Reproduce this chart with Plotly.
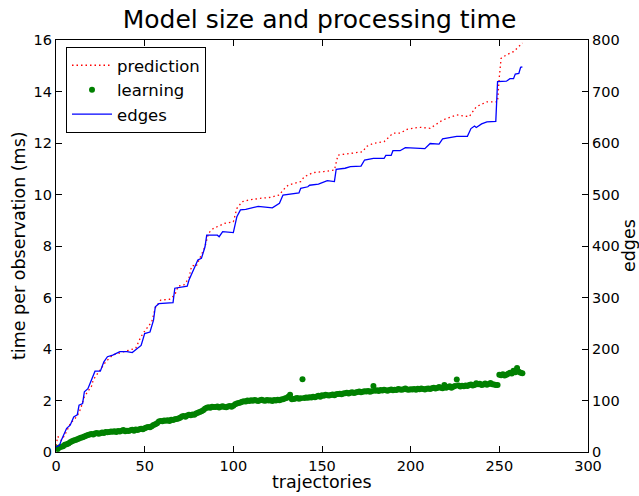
import plotly.graph_objects as go

# ---- data ----
pred_x = [0, 1, 3, 5, 8, 12, 14, 16, 20, 21, 23, 26, 28, 32, 38, 41, 45, 47, 49, 54, 56, 59, 64, 67, 69, 72, 75, 76, 77, 79, 81, 84, 86, 89, 92, 95, 100, 102, 105, 109, 115, 121, 126, 128, 131, 138, 140, 145, 151, 157, 159, 166, 173, 175, 179, 185, 190, 194, 198, 205, 211, 218, 226, 233, 237, 243, 249, 250, 251, 254, 258, 260, 263]
pred_ms = [0.25, 0.6, 0.45, 0.66, 1.1, 1.4, 1.7, 2.15, 2.55, 2.8, 3.0, 3.3, 3.5, 3.77, 3.9, 3.96, 4.03, 4.35, 4.6, 5.06, 5.6, 5.9, 5.93, 6.1, 6.45, 6.48, 6.75, 7.1, 7.25, 7.2, 7.52, 7.97, 8.5, 8.7, 8.78, 8.88, 8.94, 9.46, 9.72, 9.79, 9.85, 9.89, 9.98, 10.17, 10.37, 10.5, 10.69, 10.85, 10.89, 10.95, 11.53, 11.6, 11.66, 11.86, 11.99, 12.05, 12.38, 12.38, 12.53, 12.61, 12.57, 12.89, 13.09, 13.02, 13.41, 13.6, 13.6, 14.57, 15.29, 15.42, 15.55, 15.68, 15.88]

learn_ms = [
    0.15, 0.12, 0.18, 0.2, 0.22, 0.28, 0.3, 0.33, 0.38, 0.42,
    0.45, 0.47, 0.5, 0.52, 0.55, 0.57, 0.6, 0.63, 0.66, 0.68,
    0.7, 0.68, 0.72, 0.74, 0.71, 0.73, 0.76, 0.74, 0.78, 0.77,
    0.78, 0.8, 0.79, 0.81, 0.78, 0.82, 0.8, 0.83, 0.85, 0.81,
    0.83, 0.82, 0.84, 0.86, 0.83, 0.87, 0.85, 0.88, 0.9, 0.88,
    0.92, 0.95, 0.97, 0.96, 1.0, 1.05, 1.08, 1.12, 1.18, 1.2,
    1.19, 1.22, 1.21, 1.23, 1.2, 1.25, 1.24, 1.27, 1.28, 1.3,
    1.33, 1.38, 1.4, 1.37, 1.42, 1.45, 1.43, 1.46, 1.45, 1.5,
    1.52, 1.55, 1.58, 1.62, 1.68, 1.72, 1.74, 1.72, 1.76, 1.75,
    1.75, 1.77, 1.73, 1.76, 1.78, 1.75, 1.74, 1.77, 1.79, 1.76,
    1.8, 1.85, 1.88, 1.9, 1.92, 1.95, 1.97, 1.96, 2.0, 1.98,
    2.01, 1.99, 2.02, 2.0, 1.98, 2.01, 2.03, 2.0, 1.99, 2.02,
    2.0, 2.01, 1.98, 2.02, 2.0, 2.03, 2.01, 2.04, 2.05, 2.08,
    2.1, 2.15, 2.22, 2.05, 2.06, 2.08, 2.1, 2.07, 2.09, 2.83,
    2.1, 2.12, 2.11, 2.13, 2.12, 2.15, 2.13, 2.16, 2.18, 2.15,
    2.2, 2.18, 2.22, 2.2, 2.19, 2.21, 2.23, 2.2, 2.24, 2.25,
    2.26, 2.24, 2.27, 2.28, 2.3, 2.27, 2.3, 2.32, 2.29, 2.31,
    2.33, 2.35, 2.32, 2.34, 2.36, 2.35, 2.37, 2.34, 2.36, 2.56,
    2.38, 2.4, 2.37, 2.41, 2.39, 2.42, 2.4, 2.38, 2.41, 2.43,
    2.4, 2.42, 2.41, 2.45, 2.43, 2.42, 2.44, 2.47, 2.43, 2.42,
    2.44, 2.43, 2.45, 2.42, 2.46, 2.44, 2.47, 2.45, 2.43, 2.46,
    2.47, 2.45, 2.48, 2.5, 2.47, 2.49, 2.52, 2.5, 2.48, 2.6,
    2.5, 2.52, 2.55, 2.5, 2.53, 2.56, 2.82, 2.58, 2.54, 2.57,
    2.55, 2.58, 2.56, 2.6, 2.62, 2.58, 2.6, 2.67, 2.63, 2.65,
    2.6, 2.62, 2.66, 2.61, 2.64, 2.68, 2.63, 2.62, 2.6, 2.6,
    3.0, 2.98, 3.02, 2.97, 3.0, 3.04, 3.08, 3.05, 3.16, 3.1,
    3.26, 3.12, 3.08, 3.06,
]
learn_x = list(range(len(learn_ms)))

edges_x = [0, 2, 3, 6, 8, 10, 12, 13, 15, 16, 18, 20, 22, 25, 27, 29, 32, 36, 40, 43, 45, 48, 50, 53, 55, 56, 58, 66, 67, 71, 74, 75, 77, 80, 82, 84, 85, 91, 92, 94, 100, 102, 104, 107, 114, 119, 122, 126, 128, 137, 138, 142, 143, 148, 153, 157, 158, 163, 166, 172, 174, 179, 185, 186, 189, 190, 194, 197, 208, 211, 216, 218, 223, 226, 232, 234, 236, 237, 240, 243, 248, 249, 254, 256, 258, 259, 261, 262, 263]
edges_n = [10, 13, 23, 46, 52, 68, 72, 91, 94, 117, 123, 140, 157, 157, 175, 185, 188, 195, 195, 193, 198, 207, 230, 233, 256, 282, 288, 290, 318, 321, 322, 334, 350, 373, 376, 398, 421, 421, 418, 428, 426, 457, 470, 471, 477, 476, 474, 483, 499, 503, 512, 515, 518, 520, 527, 525, 549, 551, 554, 555, 567, 570, 570, 576, 576, 585, 585, 591, 589, 599, 598, 608, 611, 613, 613, 628, 633, 630, 637, 641, 642, 719, 720, 725, 725, 734, 735, 747, 748]

x_ticks = [0, 50, 100, 150, 200, 250, 300]
y_ticks = [0, 2, 4, 6, 8, 10, 12, 14, 16]
y2_ticks = [0, 100, 200, 300, 400, 500, 600, 700, 800]

FONT = "DejaVu Sans"

fig = go.Figure()
fig.add_trace(go.Scatter(x=pred_x, y=pred_ms, mode="lines", name="prediction",
                         line=dict(color="#ff0000", width=1.3, dash="1.5px,3px")))
fig.add_trace(go.Scatter(x=learn_x, y=learn_ms, mode="markers", name="learning",
                         marker=dict(color="#008000", size=6, line=dict(width=0))))
fig.add_trace(go.Scatter(x=edges_x, y=edges_n, mode="lines", name="edges", yaxis="y2",
                         line=dict(color="#0000ff", width=1.3, shape="linear")))

axis_common = dict(showgrid=False, zeroline=False, ticks="inside", ticklen=6,
                   tickcolor="black", linecolor="black", linewidth=1.2, showline=True,
                   automargin=False,
                   tickfont=dict(family=FONT, size=14.5, color="black"))

L, R, T, B = 56, 51, 40, 44
PW = 639 - L - R
PH = 496 - T - B

fig.update_layout(
    width=639, height=496,
    margin=dict(l=L, r=R, t=T, b=B, autoexpand=False),
    paper_bgcolor="white", plot_bgcolor="white",
    font=dict(family=FONT, color="black"),
    title=dict(text="Model size and processing time", x=0.5, xanchor="center",
               y=1 - 19 / 496, yanchor="middle", font=dict(family=FONT, size=25, color="black")),
    xaxis=dict(range=[0, 300], tickvals=x_ticks, mirror="ticks", **axis_common),
    yaxis=dict(range=[0, 16], tickvals=y_ticks, **axis_common),
    yaxis2=dict(range=[0, 800], tickvals=y2_ticks, overlaying="y", side="right", **axis_common),
    legend=dict(x=(66 - L) / PW, y=1 - (47 - T) / PH, xanchor="left", yanchor="top",
                bordercolor="black", borderwidth=1, bgcolor="white",
                font=dict(family=FONT, size=16.5), tracegroupgap=0,
                itemwidth=40),
    showlegend=True,
    annotations=[
        dict(text="trajectories", xref="paper", yref="paper", x=0.5, y=(452 - 482) / PH,
             xanchor="center", yanchor="middle", showarrow=False,
             font=dict(family=FONT, size=17.5)),
        dict(text="time per observation (ms)", xref="paper", yref="paper",
             x=(19 - L) / PW, y=0.5, textangle=-90,
             xanchor="center", yanchor="middle", showarrow=False,
             font=dict(family=FONT, size=17.5)),
        dict(text="edges", xref="paper", yref="paper",
             x=(629 - L) / PW, y=0.5, textangle=-90,
             xanchor="center", yanchor="middle", showarrow=False,
             font=dict(family=FONT, size=17.5)),
    ],
)

fig.write_html("out.html", config={"displayModeBar": False},
               post_script="document.body.style.margin='0';document.body.style.padding='0';")
